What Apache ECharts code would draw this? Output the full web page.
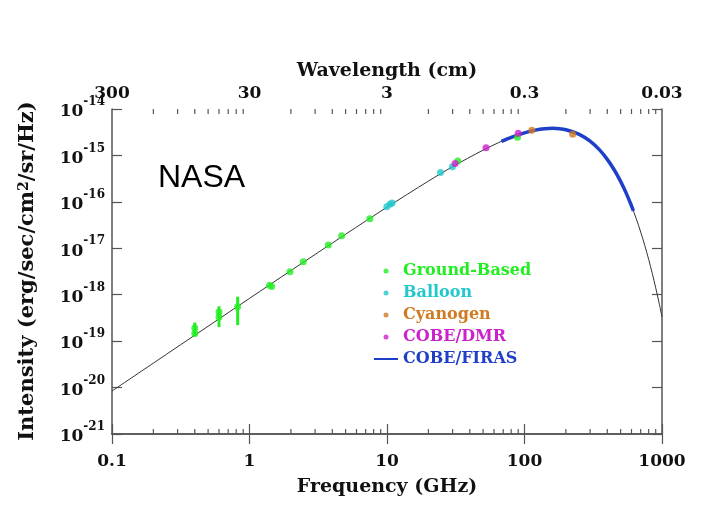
<!DOCTYPE html>
<html>
<head>
<meta charset="utf-8">
<script src="https://cdn.jsdelivr.net/npm/echarts@6/dist/echarts.min.js"></script>
<style>
  html, body { margin: 0; padding: 0; background: #fff; }
  #chart { width: 712px; height: 520px; }
</style>
</head>
<body>
<div id="chart"></div>
<script>
// frequency (GHz) / intensity
const curveFreq = [0.1, 0.2, 0.5, 1, 2, 5, 10, 20, 30, 50, 70, 100, 130, 160, 200, 250, 300, 350, 400, 450, 500, 550, 600, 650, 700, 750, 800, 850, 900, 950, 1000];
const curveVal = [8.35e-21, 3.34e-20, 2.08e-19, 8.29e-19, 3.29e-18, 2.0e-17, 7.65e-17, 2.79e-16, 5.71e-16, 1.30e-15, 2.08e-15, 3.06e-15, 3.65e-15, 3.83e-15, 3.58e-15, 2.85e-15, 2.03e-15, 1.33e-15, 8.22e-16, 4.85e-16, 2.76e-16, 1.52e-16, 8.18e-17, 4.31e-17, 2.23e-17, 1.14e-17, 5.72e-18, 2.85e-18, 1.40e-18, 6.83e-19, 3.30e-19];

const firasFreq = [68, 80, 100, 120, 140, 160, 180, 200, 250, 300, 350, 400, 450, 500, 550, 600, 620];
const firasVal = [2.0e-15, 2.44e-15, 3.06e-15, 3.50e-15, 3.75e-15, 3.83e-15, 3.77e-15, 3.58e-15, 2.85e-15, 2.03e-15, 1.33e-15, 8.22e-16, 4.85e-16, 2.76e-16, 1.52e-16, 8.18e-17, 6.35e-17];

const groundBased = [[0.4, 1.9e-19], [0.4, 1.45e-19], [0.6, 4.2e-19], [0.6, 3.3e-19], [0.82, 5.5e-19], [1.4, 1.6e-18], [1.45, 1.5e-18], [1.97, 3.1e-18], [2.46, 5.1e-18], [3.74, 1.17e-17], [4.68, 1.86e-17], [7.5, 4.3e-17], [32.7, 7.6e-16], [89, 2.45e-15]];
const groundErrors = [[0.4, 1.25e-19, 2.5e-19], [0.6, 2.0e-19, 5.6e-19], [0.82, 2.2e-19, 9.0e-19]];
const balloon = [[9.96, 7.8e-17], [10.5, 8.9e-17], [10.9, 9.4e-17], [24.5, 4.3e-16], [29.9, 5.7e-16]];
const cyanogen = [[113, 3.5e-15], [224, 2.85e-15]];
const cobeDmr = [[31.3, 6.7e-16], [52.5, 1.47e-15], [90, 3.0e-15]];

const minorTicks = [0.2, 0.3, 0.4, 0.5, 0.6, 0.7, 0.8, 0.9, 2, 3, 4, 5, 6, 7, 8, 9, 20, 30, 40, 50, 60, 70, 80, 90, 200, 300, 400, 500, 600, 700, 800, 900];

const legendNames = ['Ground-Based', 'Balloon', 'Cyanogen', 'COBE/DMR', 'COBE/FIRAS'];
const colors = ['#22ee22', '#22c8cc', '#d07a22', '#cc22cc', '#1f3fc8'];

const serif = '"DejaVu Serif", "Liberation Serif", serif';
const axisColor = '#555';

const myChart = echarts.init(document.getElementById('chart'));

const fmtNum = (v) => String(+(+v).toPrecision(6));
// only label whole decades
const fmtPow = (v) => {
  const e = Math.log10(v);
  if (Math.abs(e - Math.round(e)) > 0.01) return '';
  return '{b|10}{s|' + Math.round(e) + '}';
};
const tickRich = { t: { fontFamily: serif, fontSize: 17, fontWeight: 'bold', color: '#111' } };

// per-entry legend text colours
const legendRich = {};
legendNames.forEach((n, i) => {
  legendRich['c' + i] = { fontFamily: serif, fontSize: 16, fontWeight: 'bold', lineHeight: 18, color: colors[i] };
});

const option = {
  backgroundColor: '#fff',
  animation: false,
  grid: { left: 112, right: 50, top: 109, bottom: 86, outerBoundsMode: 'none' },
  legend: {
    orient: 'vertical',
    left: 373,
    top: 262,
    padding: 0,
    itemWidth: 24,
    itemHeight: 5,
    itemGap: 4,
    formatter: (name) => '{c' + legendNames.indexOf(name) + '|' + name + '}',
    textStyle: { fontFamily: serif, fontSize: 16, fontWeight: 'bold', lineHeight: 18, rich: legendRich },
    data: legendNames.map((n) => ({
      name: n,
      itemStyle: n === 'COBE/FIRAS' ? { opacity: 0 } : undefined
    }))
  },
  xAxis: [
    {
      type: 'log', logBase: 10, min: 0.1, max: 1000, position: 'bottom',
      axisLine: { show: true, lineStyle: { color: axisColor, width: 1.5 } },
      axisTick: { inside: true, length: 10, lineStyle: { color: axisColor, width: 1.2 } },
      splitLine: { show: false },
      axisLabel: {
        margin: 19, showMinLabel: true, showMaxLabel: true,
        formatter: (v) => '{t|' + fmtNum(v) + '}', rich: tickRich
      },
      name: 'Frequency (GHz)', nameLocation: 'middle', nameGap: 44,
      nameTextStyle: { color: '#111', fontFamily: serif, fontSize: 19, fontWeight: 'bold' }
    },
    {
      type: 'log', logBase: 10, min: 0.1, max: 1000, position: 'top',
      axisLine: { show: true, lineStyle: { color: axisColor, width: 1.5 } },
      axisTick: { inside: true, length: 10, lineStyle: { color: axisColor, width: 1.2 } },
      splitLine: { show: false },
      axisLabel: {
        margin: 7, showMinLabel: true, showMaxLabel: true,
        formatter: (v) => '{t|' + fmtNum(30 / v) + '}', rich: tickRich
      },
      name: 'Wavelength (cm)', nameLocation: 'middle', nameGap: 27,
      nameTextStyle: { color: '#111', fontFamily: serif, fontSize: 19, fontWeight: 'bold' }
    }
  ],
  yAxis: [
    {
      type: 'log', logBase: 10, min: 9.9e-22, max: 1e-14, position: 'left',
      axisLine: { show: true, lineStyle: { color: axisColor, width: 1.5 } },
      axisTick: { inside: true, length: 10, lineStyle: { color: axisColor, width: 1.2 } },
      splitLine: { show: false },
      axisLabel: {
        margin: 7, showMinLabel: true, showMaxLabel: true, hideOverlap: false,
        formatter: fmtPow,
        rich: {
          b: { fontFamily: serif, fontSize: 17, fontWeight: 'bold', color: '#111', lineHeight: 26, padding: [6, 0, 0, 0] },
          s: { fontFamily: serif, fontSize: 12, fontWeight: 'bold', color: '#111', lineHeight: 13, verticalAlign: 'top' }
        }
      }
    },
    {
      type: 'log', logBase: 10, min: 9.9e-22, max: 1e-14, position: 'right',
      axisLine: { show: true, lineStyle: { color: axisColor, width: 1.5 } },
      axisTick: { inside: true, length: 10, lineStyle: { color: axisColor, width: 1.2 } },
      axisLabel: { show: false },
      splitLine: { show: false }
    }
  ],
  graphic: [
    { type: 'text', left: 158, top: 162, style: { text: 'NASA', fontFamily: '"Liberation Sans", Arial, sans-serif', fontSize: 32, fill: '#000' } },
    {
      // y axis title
      type: 'text', x: 28, y: 271, rotation: Math.PI / 2,
      style: {
        text: 'Intensity (erg/sec/cm{s|2}/sr/Hz)',
        align: 'center', verticalAlign: 'middle',
        fontFamily: serif, fontSize: 21, fontWeight: 'bold', fill: '#111',
        rich: { s: { fontFamily: serif, fontSize: 14, fontWeight: 'bold', fill: '#111', verticalAlign: 'top', lineHeight: 12 } }
      }
    }
  ],
  series: [
    {
      // minor ticks on top and bottom frequency axes
      type: 'custom', silent: true, clip: false,
      data: minorTicks.map((v) => [v, 1e-18]),
      renderItem: (params, api) => {
        const b = api.coord([api.value(0), 9.9e-22]);
        const t = api.coord([api.value(0), 1e-14]);
        const style = { stroke: axisColor, lineWidth: 1.2 };
        return {
          type: 'group',
          children: [
            { type: 'line', shape: { x1: b[0], y1: b[1], x2: b[0], y2: b[1] - 5 }, style },
            { type: 'line', shape: { x1: t[0], y1: t[1], x2: t[0], y2: t[1] + 5 }, style }
          ]
        };
      }
    },
    {
      name: 'Theory', type: 'line', smooth: 0.3, symbol: 'none', silent: true,
      lineStyle: { color: '#333', width: 1 },
      data: curveFreq.map((f, i) => [f, curveVal[i]])
    },
    {
      name: 'COBE/FIRAS', type: 'line', smooth: 0.3, symbol: 'none',
      itemStyle: { color: colors[4] },
      lineStyle: { color: colors[4], width: 3.5 },
      data: firasFreq.map((f, i) => [f, firasVal[i]]),
      z: 3
    },
    { name: 'Ground-Based', type: 'scatter', symbolSize: 7, itemStyle: { color: colors[0] }, data: groundBased, z: 5 },
    {
      name: 'Ground-Based errors', type: 'custom', silent: true,
      data: groundErrors,
      encode: { x: 0, y: [1, 2] },
      renderItem: (params, api) => {
        const lo = api.coord([api.value(0), api.value(1)]);
        const hi = api.coord([api.value(0), api.value(2)]);
        return { type: 'line', shape: { x1: lo[0], y1: lo[1], x2: hi[0], y2: hi[1] }, style: { stroke: colors[0], lineWidth: 3 } };
      },
      z: 4
    },
    { name: 'Balloon', type: 'scatter', symbolSize: 7, itemStyle: { color: colors[1] }, data: balloon, z: 5 },
    { name: 'Cyanogen', type: 'scatter', symbolSize: 7, itemStyle: { color: colors[2] }, data: cyanogen, z: 5 },
    { name: 'COBE/DMR', type: 'scatter', symbolSize: 7, itemStyle: { color: colors[3] }, data: cobeDmr, z: 5 }
  ]
};

myChart.setOption(option);
</script>
</body>
</html>
